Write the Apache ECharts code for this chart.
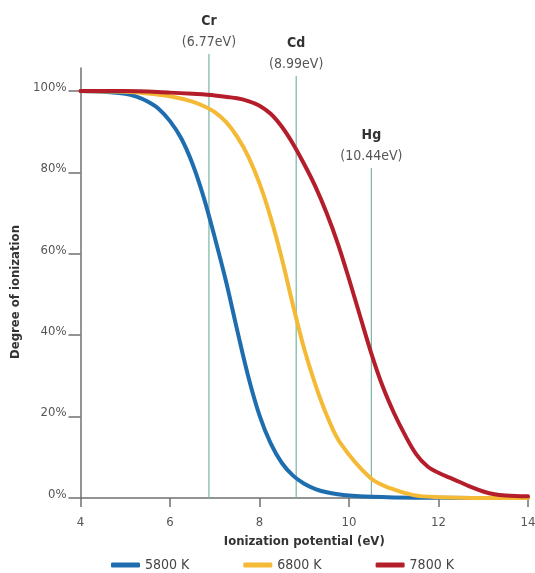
<!DOCTYPE html>
<html><head><meta charset="utf-8">
<script src="https://cdn.jsdelivr.net/npm/echarts@6/dist/echarts.min.js"></script>
<style>html,body{margin:0;padding:0;background:#fff}#c{width:535px;height:573px}</style>
</head><body><div id="c"></div>
<script>
const FONT = "'DejaVu Sans Condensed','Liberation Sans Narrow',sans-serif";

const seriesNames = ['5800 K', '6800 K', '7800 K'];
const seriesColors = ['#1e6eaf', '#f4b935', '#b41e2a'];

const xTicks = [4, 6, 8, 10, 12, 14];
const yTicks = [0, 20, 40, 60, 80, 100];

const x5800 = [4, 4.5, 5, 5.25, 5.5, 5.75, 6, 6.25, 6.5, 6.75, 7, 7.25, 7.5, 7.75, 8, 8.25, 8.5, 8.75, 9, 9.25, 9.5, 9.75, 10, 10.5, 11, 12, 14];
const y5800 = [100, 99.8, 99.3, 98.6, 97.4, 95.6, 92.6, 88.4, 82.2, 74.0, 64.0, 53.3, 41.3, 29.8, 20.3, 13.4, 8.6, 5.5, 3.5, 2.2, 1.4, 0.9, 0.6, 0.3, 0.15, 0.05, 0];

const x6800 = [4, 5, 5.5, 6, 6.5, 6.75, 7, 7.25, 7.5, 7.75, 8, 8.25, 8.5, 8.75, 9, 9.25, 9.5, 9.8, 10.48, 10.92, 11.44, 12, 13, 14];
const y6800 = [100, 99.8, 99.4, 98.7, 97.4, 96.3, 94.8, 92.4, 88.8, 83.9, 77.3, 68.9, 58.8, 47.3, 36.6, 27.8, 20.4, 13.6, 4.9, 2.4, 0.7, 0.2, 0, 0];

const x7800 = [4, 5, 6, 6.5, 7, 7.5, 7.75, 8, 8.25, 8.5, 8.75, 9, 9.25, 9.5, 9.75, 10, 10.25, 10.5, 10.75, 11, 11.25, 11.5, 11.75, 12, 12.25, 12.5, 12.75, 13, 13.25, 13.5, 14];
const y7800 = [100, 100, 99.6, 99.3, 98.9, 98.2, 97.5, 96.4, 94.4, 91.2, 87.0, 82.0, 76.5, 70.0, 62.5, 53.8, 44.6, 35.5, 27.5, 21.0, 15.5, 10.8, 7.8, 6.2, 5.0, 3.8, 2.6, 1.6, 0.9, 0.6, 0.4];

const elementNames = ['Cr', 'Cd', 'Hg'];
const elementLabels = ['(6.77eV)', '(8.99eV)', '(10.44eV)'];
const elementLineX = [6.87, 8.82, 10.50];
const elementLineTop = [109.1, 103.7, 81.1];

const xs = [x5800, x6800, x7800];
const ys = [y5800, y6800, y7800];

const axisColor = '#707070';
const curveSeries = seriesNames.map((n, i) => ({
  name: n,
  type: 'line',
  xAxisIndex: 0, yAxisIndex: 0,
  data: xs[i].map((x, j) => [x, ys[i][j]]),
  smooth: 0.35,
  symbol: 'none',
  z: 3 + i,
  lineStyle: { color: seriesColors[i], width: 4, cap: 'round', join: 'round' },
  itemStyle: { color: seriesColors[i] },
  emphasis: { disabled: true }
}));

const elementSeries = elementNames.map((n, i) => ({
  name: 'el-' + n,
  type: 'line',
  xAxisIndex: 1, yAxisIndex: 1,
  z: 1,
  symbol: 'circle', symbolSize: 0.01,
  lineStyle: { color: '#7ab5a4', width: 1.2 },
  itemStyle: { color: '#7ab5a4' },
  emphasis: { disabled: true },
  data: [
    [elementLineX[i], 0],
    { value: [elementLineX[i], elementLineTop[i]],
      label: {
        show: true, position: 'top', distance: 1,
        formatter: '{n|' + n + '}\n{v|' + elementLabels[i] + '}',
        rich: {
          n: { fontFamily: FONT, fontSize: 14, fontWeight: 'bold', color: '#333', lineHeight: 21, align: 'center' },
          v: { fontFamily: FONT, fontSize: 14, color: '#555', lineHeight: 21, align: 'center' }
        }
      } }
  ]
}));

const chart = echarts.init(document.getElementById('c'), null, { renderer: 'canvas' });
chart.setOption({
  animation: false,
  backgroundColor: '#fff',
  textStyle: { fontFamily: FONT },
  grid: [
    { left: 80.5, right: 7, top: 68, bottom: 75, containLabel: false, outerBoundsMode: 'none' },
    { left: 80.5, right: 7, top: 0, bottom: 75, containLabel: false, outerBoundsMode: 'none' }
  ],
  legend: {
    data: seriesNames,
    left: 111, top: 558, padding: 0,
    icon: 'roundRect',
    itemWidth: 29, itemHeight: 5, itemGap: 54,
    textStyle: { fontFamily: FONT, fontSize: 14, color: '#444' },
    selectedMode: false
  },
  xAxis: [
    {
      type: 'value', gridIndex: 0, min: 4, max: 14, interval: 2,
      axisLine: { show: true, lineStyle: { color: axisColor, width: 1.5 } },
      axisTick: { show: true, length: 9, lineStyle: { color: axisColor, width: 1.5 } },
      axisLabel: { fontFamily: FONT, fontSize: 13, color: '#555', margin: 18 },
      splitLine: { show: false },
      name: 'Ionization potential (eV)', nameLocation: 'middle', nameGap: 37,
      nameTextStyle: { fontFamily: FONT, fontSize: 13, fontWeight: 'bold', color: '#333' }
    },
    { type: 'value', gridIndex: 1, min: 4, max: 14, show: false }
  ],
  yAxis: [
    {
      type: 'value', gridIndex: 0, min: 0, max: 105.65,
      axisLine: { show: true, lineStyle: { color: axisColor, width: 1.5 } },
      axisTick: { show: true, length: 12, customValues: yTicks, lineStyle: { color: axisColor, width: 1.5 } },
      axisLabel: { customValues: yTicks, formatter: '{value}%', fontFamily: FONT, fontSize: 13, color: '#555', margin: 14, verticalAlign: 'bottom', lineHeight: 7 },
      splitLine: { show: false },
      name: 'Degree of ionization', nameLocation: 'middle', nameGap: 50, nameRotate: 90,
      nameTextStyle: { fontFamily: FONT, fontSize: 13, fontWeight: 'bold', color: '#333', padding: [0, 18, 0, 0] }
    },
    { type: 'value', gridIndex: 1, min: 0, max: 122.36, show: false }
  ],
  series: elementSeries.concat(curveSeries)
});
</script></body></html>
